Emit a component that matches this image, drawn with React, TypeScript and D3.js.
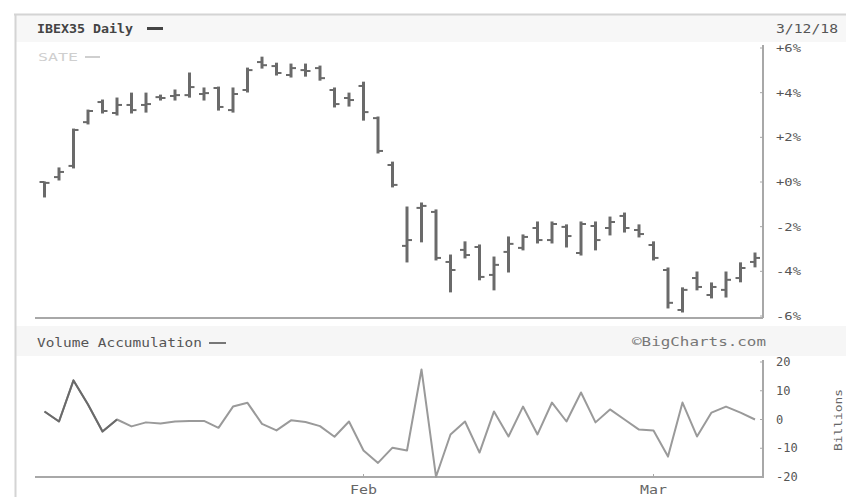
import * as d3 from "d3";

// trading days, Jan 2 - Mar 12 2018
const days = [
  "01-02", "01-03", "01-04", "01-05", "01-08", "01-09", "01-10", "01-11", "01-12",
  "01-15", "01-16", "01-17", "01-18", "01-19", "01-22", "01-23", "01-24", "01-25",
  "01-26", "01-29", "01-30", "01-31",
  "02-01", "02-02", "02-05", "02-06", "02-07", "02-08", "02-09", "02-12", "02-13",
  "02-14", "02-15", "02-16", "02-19", "02-20", "02-21", "02-22", "02-23", "02-26",
  "02-27", "02-28",
  "03-01", "03-02", "03-05", "03-06", "03-07", "03-08", "03-09", "03-12",
];

// % change
const opens = [
  0, 0.22, 0.72, 2.68, 3.58, 3.09, 3.45, 3.45, 3.8, 3.85, 3.89, 3.94, 4.21, 3.22, 4.12,
  5.37, 5.19, 4.79, 5.01, 5.1, 4.12, 3.76, 4.3, 2.86, 0.76, -2.86, -1.16, -1.34, -3.58,
  -3.04, -2.91, -4.16, -3.13, -2.95, -2.06, -2.6, -2.01, -3.18, -1.97, -2.06, -1.52,
  -2.15, -2.82, -3.94, -5.73, -4.3, -5.06, -4.83, -4.3, -3.58,
];
const highs = [
  0, 0.63, 2.37, 3.22, 3.67, 3.76, 3.98, 3.98, 3.89, 4.12, 4.88, 4.21, 4.25, 4.21, 5.1,
  5.59, 5.32, 5.28, 5.28, 5.19, 4.21, 3.98, 4.47, 2.91, 0.89, -1.12, -0.94, -1.25, -3.27,
  -2.68, -2.82, -3.36, -2.46, -2.37, -1.79, -1.79, -1.92, -1.79, -1.79, -1.57, -1.39,
  -1.92, -2.68, -3.85, -4.74, -4.03, -4.52, -4.03, -3.62, -3.18,
];
const lows = [
  -0.67, 0.09, 0.63, 2.6, 3.09, 3.0, 3.09, 3.13, 3.67, 3.67, 3.8, 3.67, 3.22, 3.13, 4.03,
  5.1, 4.79, 4.7, 4.74, 4.56, 3.36, 3.4, 2.77, 1.3, -0.22, -3.58, -2.68, -3.49, -4.92,
  -3.4, -4.38, -4.83, -4.03, -3.04, -2.73, -2.73, -2.91, -3.27, -3.04, -2.37, -2.24,
  -2.46, -3.49, -5.64, -5.82, -4.83, -5.19, -5.15, -4.47, -3.8,
];
const closes = [
  -0.04, 0.45, 2.33, 3.18, 3.18, 3.45, 3.22, 3.49, 3.76, 3.89, 4.25, 3.98, 3.36, 3.94, 5.01,
  5.23, 4.88, 5.1, 4.97, 4.65, 3.49, 3.67, 3.13, 1.39, -0.13, -2.6, -1.07, -3.4, -3.94,
  -3.27, -4.25, -3.71, -2.77, -2.46, -2.6, -1.88, -2.42, -1.88, -2.6, -1.79, -2.06,
  -2.33, -3.4, -5.41, -4.83, -4.7, -4.7, -4.38, -3.85, -3.4,
];

// volume accumulation, billions
const volume = [
  2.8, -0.7, 13.6, 5.2, -4.2, 0, -2.4, -1.0, -1.4, -0.7, -0.5, -0.5, -2.9, 4.5, 5.8,
  -1.5, -3.8, -0.3, -0.9, -2.3, -6.0, -0.7, -10.8, -15.1, -9.8, -10.8, 17.4, -19.9, -5.2,
  -0.7, -11.5, 2.8, -5.9, 4.5, -5.2, 5.9, -0.7, 9.4, -1.0, 3.5, 0, -3.5, -3.8, -12.9,
  5.9, -5.9, 2.4, 4.5, 2.4, 0,
];

const priceTicks = [6, 4, 2, 0, -2, -4, -6];
const priceTickLabels = ["+6%", "+4%", "+2%", "+0%", "-2%", "-4%", "-6%"];
const volumeTicks = [20, 10, 0, -10, -20];
const months = [
  { day: "02-01", label: "Feb" },
  { day: "03-01", label: "Mar" },
];

const W = 846;
const H = 497;
const plotLeft = 35;
const plotRight = 763;

export default function App() {
  const x = d3.scalePoint<string>().domain(days).range([44.5, 755]);
  const yPrice = d3.scaleLinear().domain([-6, 6]).range([316, 48]);
  const yVol = d3.scaleLinear().domain([-20, 20]).range([477, 362]);

  const volLine = d3
    .line<number>()
    .x((_, i) => x(days[i]) as number)
    .y((d) => yVol(d));
  // the first few segments are drawn darker in the original
  const volHead = d3
    .line<number>()
    .x((_, i) => x(days[i]) as number)
    .y((d) => yVol(d));

  const font = "'DejaVu Sans Mono', monospace";
  const axisColor = "#a8a8a8";
  const barColor = "#6a6a6a";
  // stretch mono text to the wide pixel font of the original
  const fit = (n: number) => ({ textLength: n, lengthAdjust: "spacingAndGlyphs" as const });

  return (
    <svg
      width={W}
      height={H}
      style={{ position: "absolute", left: 0, top: 0, background: "#fff" }}
      fontFamily={font}
    >
      {/* frame + bands */}
      <rect x={15} y={14} width={W - 15} height={28} fill="#f7f7f7" />
      <rect x={15} y={326} width={W - 15} height={30} fill="#f6f6f6" />
      <line x1={14} x2={W} y1={14.5} y2={14.5} stroke="#d4d4d4" strokeWidth={2} />
      <line x1={15.5} x2={15.5} y1={14} y2={H} stroke="#d4d4d4" strokeWidth={2} />

      {/* header */}
      <text x={37} y={33} fontSize={12} fontWeight="bold" fill="#444" {...fit(96)}>
        IBEX35 Daily
      </text>
      <line x1={147} x2={163} y1={28.5} y2={28.5} stroke="#444" strokeWidth={3} />
      <text x={38} y={61} fontSize={11} fill="#cfcfcf" {...fit(40)}>
        SATE
      </text>
      <line x1={85} x2={100} y1={57} y2={57} stroke="#cfcfcf" strokeWidth={2} />
      <text x={838} y={33} fontSize={12} fill="#555" textAnchor="end" {...fit(62)}>
        3/12/18
      </text>

      {/* price panel axes */}
      <line x1={plotRight} x2={plotRight} y1={45} y2={318} stroke={axisColor} strokeWidth={2} />
      <line x1={plotLeft} x2={plotRight} y1={318} y2={318} stroke={axisColor} strokeWidth={2} />
      {priceTicks.map((t, i) => (
        <g key={t}>
          <line
            x1={plotRight - 3}
            x2={plotRight}
            y1={yPrice(t)}
            y2={yPrice(t)}
            stroke={axisColor}
          />
          <text
            x={776}
            y={yPrice(t)}
            dy="0.35em"
            fontSize={11}
            fill="#555"
            {...fit(25)}
          >
            {priceTickLabels[i]}
          </text>
        </g>
      ))}

      {/* OHLC bars */}
      <g stroke={barColor}>
        {days.map((d, i) => {
          const cx = x(d) as number;
          return (
            <g key={d}>
              <line
                x1={cx}
                x2={cx}
                y1={yPrice(highs[i]) - 0.5}
                y2={yPrice(lows[i]) + 0.5}
                strokeWidth={3}
              />
              <line
                x1={cx - 5}
                x2={cx}
                y1={yPrice(opens[i])}
                y2={yPrice(opens[i])}
                strokeWidth={2}
              />
              <line
                x1={cx}
                x2={cx + 5}
                y1={yPrice(closes[i])}
                y2={yPrice(closes[i])}
                strokeWidth={2}
              />
            </g>
          );
        })}
      </g>

      {/* volume panel */}
      <text x={37} y={347} fontSize={12} fill="#555" {...fit(165)}>
        Volume Accumulation
      </text>
      <line x1={209} x2={226} y1={343} y2={343} stroke="#777" strokeWidth={2} />
      <text x={766} y={346} fontSize={12} fill="#777" textAnchor="end" {...fit(134)}>
        ©BigCharts.com
      </text>

      <line x1={plotRight} x2={plotRight} y1={360} y2={478} stroke={axisColor} strokeWidth={2} />
      <line x1={plotLeft} x2={plotRight} y1={477} y2={477} stroke={axisColor} strokeWidth={2} />
      {volumeTicks.map((t) => (
        <g key={t}>
          <line x1={plotRight - 3} x2={plotRight} y1={yVol(t)} y2={yVol(t)} stroke={axisColor} />
          <text x={776} y={yVol(t)} dy="0.35em" fontSize={12} fill="#555">
            {t}
          </text>
        </g>
      ))}
      <text
        transform="translate(842,420) rotate(-90)"
        fontSize={11}
        fill="#666"
        textAnchor="middle"
        {...fit(62)}
      >
        Billions
      </text>

      <path
        d={volLine(volume) ?? ""}
        fill="none"
        stroke="#9a9a9a"
        strokeWidth={2}
        strokeLinejoin="round"
      />
      <path
        d={volHead(volume.slice(0, 6)) ?? ""}
        fill="none"
        stroke="#6a6a6a"
        strokeWidth={2}
        strokeLinejoin="round"
      />

      {/* month labels */}
      {months.map((m) => (
        <g key={m.label}>
          <line
            x1={x(m.day) as number}
            x2={x(m.day) as number}
            y1={474}
            y2={477}
            stroke={axisColor}
          />
          <text
            x={x(m.day) as number}
            y={494}
            fontSize={12}
            fill="#666"
            textAnchor="middle"
            {...fit(27)}
          >
            {m.label}
          </text>
        </g>
      ))}
    </svg>
  );
}
